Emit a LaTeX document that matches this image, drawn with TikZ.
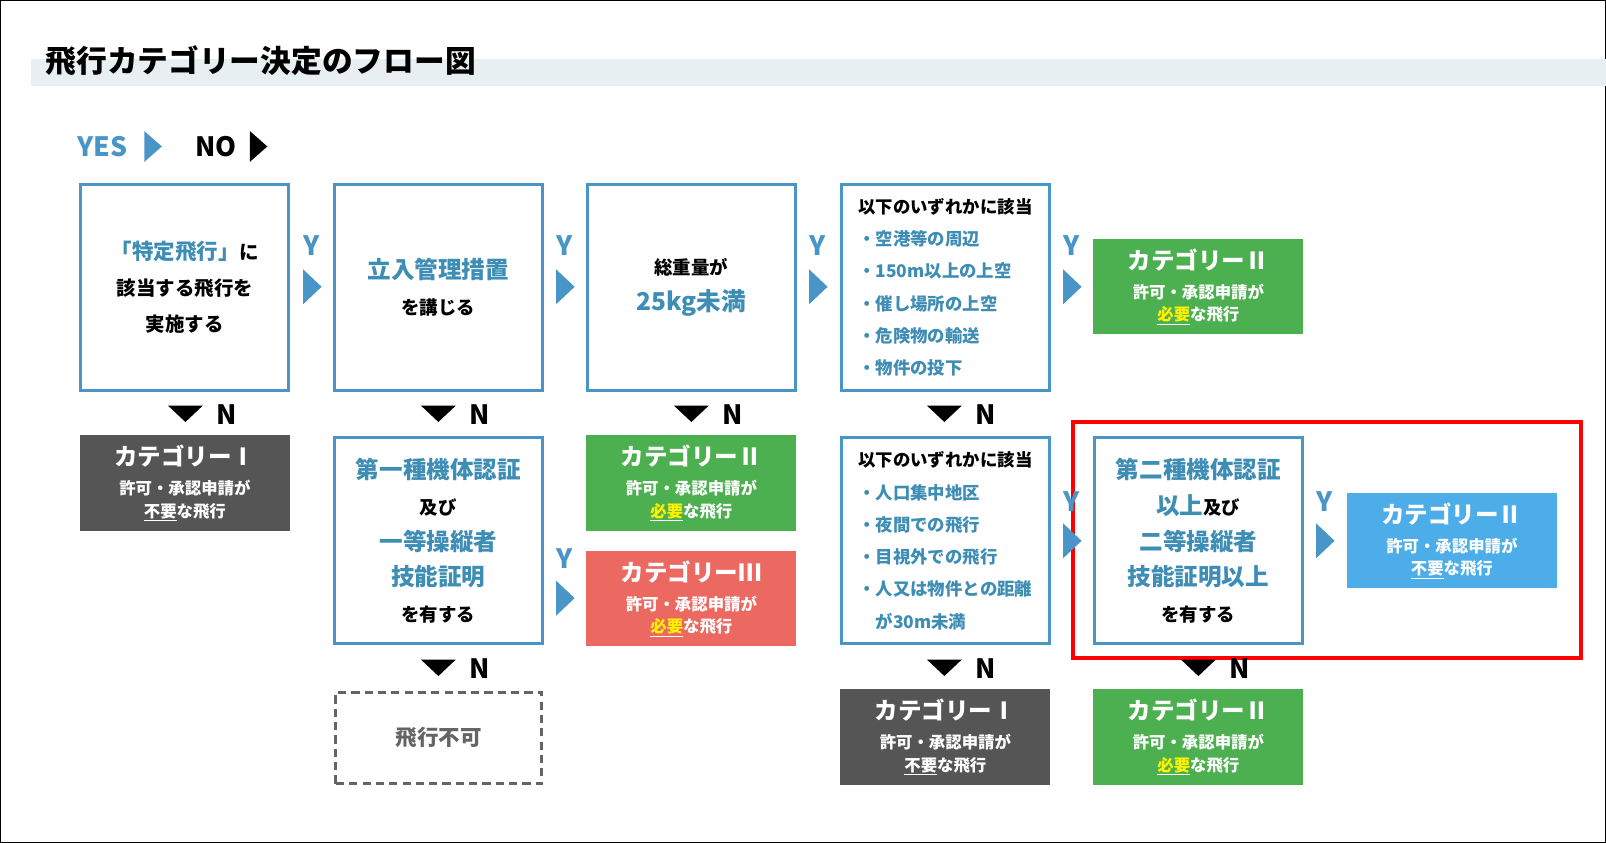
\documentclass[tikz,border=0pt]{standalone}
\usepackage{fontspec}
\setmainfont{Noto Sans CJK JP}
\begin{document}
\begin{tikzpicture}[x=1pt,y=-1pt,
 qbox/.style={draw=qb,line width=3pt,fill=white,minimum width=203,minimum height=201,inner sep=0,align=center},
 cat/.style={minimum width=205,minimum height=93,inner sep=0,align=center,text=white,font=\bfseries\fontsize{16}{22}\selectfont}]
\definecolor{qb}{HTML}{4A95C8}
\definecolor{tq}{HTML}{3D8DB5}
\definecolor{cg}{HTML}{4CAF50}
\definecolor{cr}{HTML}{EB6961}
\definecolor{cd}{HTML}{555555}
\definecolor{cb}{HTML}{4DADE8}
\definecolor{yl}{HTML}{FFF200}
\definecolor{band}{HTML}{E8EFF2}
\definecolor{gr}{HTML}{646464}
\newcommand\ytri[2]{\fill[qb] (#1-8,#2-17)--(#1+10,#2)--(#1-8,#2+17)--cycle;}
\newcommand\ntri[2]{\fill[black] (#1-17,#2-8)--(#1+17,#2-8)--(#1,#2+8)--cycle;}
\newcommand\ytxt[2]{\node[text=qb,font=\bfseries\fontsize{26}{26}\selectfont] at (#1,#2) {Y};}
\newcommand\ntxt[2]{\node[font=\bfseries\fontsize{26}{26}\selectfont] at (#1,#2) {N};}
\newcommand\cattxt[3]{{\fontsize{23}{22}\selectfont カテゴリー#1}\\[6pt]許可・承認申請が\\\underline{\textcolor{#3}{#2}}な飛行}
\newcommand\B[1]{{\fontsize{23}{35}\selectfont\textcolor{tq}{#1}}}
\useasboundingbox (0,0) rectangle (1568,823);
\draw[line width=1pt] (0.5,0.5) rectangle (1567.5,822.5);
\fill[band] (30,58) rectangle (1568,84);
\node[anchor=west,font=\bfseries\fontsize{30}{30}\selectfont] (title) at (41,59) {飛行カテゴリー決定のフロー図};
\node[anchor=west,text=qb,font=\bfseries\fontsize{26}{26}\selectfont] (yes) at (72,143) {YES};
\fill[qb] (141,128)--(158,143)--(141,158)--cycle;
\node[anchor=west,font=\bfseries\fontsize{26}{26}\selectfont] (no) at (187,143) {NO};
\fill[black] (244,128)--(261,143)--(244,158)--cycle;
% row 1
\node[qbox,font=\bfseries\fontsize{19}{35}\selectfont] (a1) at (180.5,280.5) {{\fontsize{21}{35}\selectfont\textcolor{tq}{「特定飛行」}}に\\該当する飛行を\\実施する};
\node[qbox,font=\bfseries\fontsize{18}{35}\selectfont] (a2) at (428,280.5) {\B{立入管理措置}\\を講じる};
\node[qbox,font=\bfseries\fontsize{18}{35}\selectfont] (a3) at (675,280.5) {総重量が\\{\fontsize{24}{35}\selectfont\textcolor{tq}{25kg未満}}};
\node[qbox,font=\bfseries\fontsize{17}{31.5}\selectfont,align=left,text=tq] (a4) at (923,280.5) {\textcolor{black}{以下のいずれかに該当}\\・空港等の周辺\\・150m以上の上空\\・催し場所の上空\\・危険物の輸送\\・物件の投下};
\node[cat,fill=cg] (a5) at (1170,280) {\cattxt{Ⅱ}{必要}{yl}};
% row 2
\node[cat,fill=cd] (b1) at (180.5,471.5) {\cattxt{Ⅰ}{不要}{white}};
\node[qbox,font=\bfseries\fontsize{18}{35}\selectfont] (b2) at (428,528) {\B{第一種機体認証}\\及び\\\B{一等操縦者}\\\B{技能証明}\\を有する};
\node[cat,fill=cg] (b3) at (675,471.5) {\cattxt{Ⅱ}{必要}{yl}};
\node[cat,fill=cr] (b3r) at (675,584.5) {\cattxt{Ⅲ}{必要}{yl}};
\node[qbox,font=\bfseries\fontsize{17}{31.5}\selectfont,align=left,text=tq] (b4) at (923,528) {\textcolor{black}{以下のいずれかに該当}\\・人口集中地区\\・夜間での飛行\\・目視外での飛行\\・人又は物件との距離\\\hspace*{1em}が30m未満};
\node[qbox,font=\bfseries\fontsize{18}{35}\selectfont] (b5) at (1170,528) {\B{第二種機体認証}\\\B{以上}及び\\\B{二等操縦者}\\\B{技能証明以上}\\を有する};
\node[cat,fill=cb] (b6) at (1417.5,528) {\cattxt{Ⅱ}{不要}{white}};
% row 3
\node[draw=gr,dash pattern=on 8pt off 5pt,line width=3pt,minimum width=201,minimum height=89,text=gr,font=\bfseries\fontsize{21}{21}\selectfont] (c2) at (428.5,720.5) {飛行不可};
\node[cat,fill=cd] (c4) at (923,719.5) {\cattxt{Ⅰ}{不要}{white}};
\node[cat,fill=cg] (c5) at (1170,719.5) {\cattxt{Ⅱ}{必要}{yl}};
% highlight
\draw[red,line width=4pt] (1048,412) rectangle (1544,642);
% Y arrows
\foreach \x in {304,551,798,1046} {\ytxt{\x}{240}\ytri{\x}{280}}
\ytxt{551}{545}\ytri{551}{584}
\ytxt{1046}{490}\ytri{1046}{528}
\ytxt{1293}{490}\ytri{1293}{528}
% N arrows
\foreach \x in {181,428,675,922} {\ntri{\x}{404}\ntxt{\x+40}{405}}
\ntri{428}{652}\ntxt{468}{653}
\ntri{922}{652}\ntxt{962}{653}
\ntri{1170}{652}\ntxt{1210}{653}
\end{tikzpicture}
\end{document}
